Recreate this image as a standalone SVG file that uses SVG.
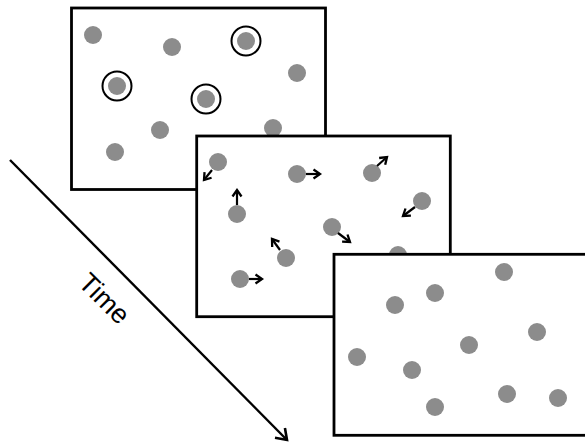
<svg xmlns="http://www.w3.org/2000/svg" width="585" height="444" viewBox="0 0 585 444">
<style>
.frame{fill:#fff;stroke:#000;stroke-width:2.8}
.dot{fill:#8c8c8c}
.ring{fill:none;stroke:#000;stroke-width:2}
.mv{stroke:#000;stroke-width:2.2;fill:none;marker-end:url(#sh)}
.time{stroke:#000;stroke-width:2.4;fill:none;marker-end:url(#lh)}
text{font-family:"Liberation Sans",Arial,sans-serif;font-size:27px;fill:#000}
</style>
<defs>
<marker id="sh" viewBox="0 0 12 12" refX="9.5" refY="6" markerWidth="12" markerHeight="12" markerUnits="userSpaceOnUse" orient="auto">
<path d="M3,1.5 L9.5,6 L3,10.5" fill="none" stroke="#000" stroke-width="2.3"/>
</marker>
<marker id="lh" viewBox="0 0 16 16" refX="13" refY="8" markerWidth="16" markerHeight="16" markerUnits="userSpaceOnUse" orient="auto">
<path d="M3,1 L13,8 L3,15" fill="none" stroke="#000" stroke-width="2.6"/>
</marker>
</defs>
<g id="frame1">
<rect class="frame" x="71.5" y="8" width="254" height="181.5"/>
<circle class="dot" cx="93" cy="35" r="9"/>
<circle class="dot" cx="172" cy="47" r="9"/>
<circle class="dot" cx="246" cy="41" r="9"/>
<circle class="ring" cx="246" cy="41" r="14.5"/>
<circle class="dot" cx="297" cy="73" r="9"/>
<circle class="dot" cx="117" cy="86" r="9"/>
<circle class="ring" cx="117" cy="86" r="14.5"/>
<circle class="dot" cx="206" cy="99" r="9"/>
<circle class="ring" cx="206" cy="99" r="14.5"/>
<circle class="dot" cx="160" cy="130" r="9"/>
<circle class="dot" cx="273" cy="128" r="9"/>
<circle class="dot" cx="115" cy="152" r="9"/>
</g>
<g id="frame2">
<rect class="frame" x="196.7" y="136" width="253.6" height="180.7"/>
<circle class="dot" cx="218" cy="162" r="9"/>
<circle class="dot" cx="297" cy="174" r="9"/>
<circle class="dot" cx="372" cy="173" r="9"/>
<circle class="dot" cx="237" cy="214" r="9"/>
<circle class="dot" cx="422" cy="201" r="9"/>
<circle class="dot" cx="332" cy="227" r="9"/>
<circle class="dot" cx="286" cy="258" r="9"/>
<circle class="dot" cx="240" cy="279" r="9"/>
<circle class="dot" cx="398" cy="255" r="9"/>
</g>
<g id="connectors">
<line class="mv" x1="212" y1="170" x2="204" y2="180"/>
<line class="mv" x1="306" y1="174" x2="320" y2="174"/>
<line class="mv" x1="377" y1="166" x2="387" y2="157"/>
<line class="mv" x1="237" y1="205" x2="237" y2="190"/>
<line class="mv" x1="415" y1="207" x2="403" y2="216"/>
<line class="mv" x1="338" y1="233" x2="350" y2="242"/>
<line class="mv" x1="280" y1="250" x2="272" y2="239"/>
<line class="mv" x1="249" y1="279" x2="262" y2="279"/>
<line class="time" x1="10" y1="160" x2="287" y2="440"/>
</g>
<g id="frame3">
<rect class="frame" x="334" y="254.3" width="254" height="181"/>
<circle class="dot" cx="504" cy="272" r="9"/>
<circle class="dot" cx="435" cy="293" r="9"/>
<circle class="dot" cx="395" cy="305" r="9"/>
<circle class="dot" cx="537" cy="332" r="9"/>
<circle class="dot" cx="469" cy="345" r="9"/>
<circle class="dot" cx="357" cy="357" r="9"/>
<circle class="dot" cx="412" cy="370" r="9"/>
<circle class="dot" cx="507" cy="394" r="9"/>
<circle class="dot" cx="558" cy="398" r="9"/>
<circle class="dot" cx="435" cy="407" r="9"/>
</g>
<g id="time-label">
<text transform="translate(105,298) rotate(45)" text-anchor="middle" y="10">Time</text>
</g>
</svg>
